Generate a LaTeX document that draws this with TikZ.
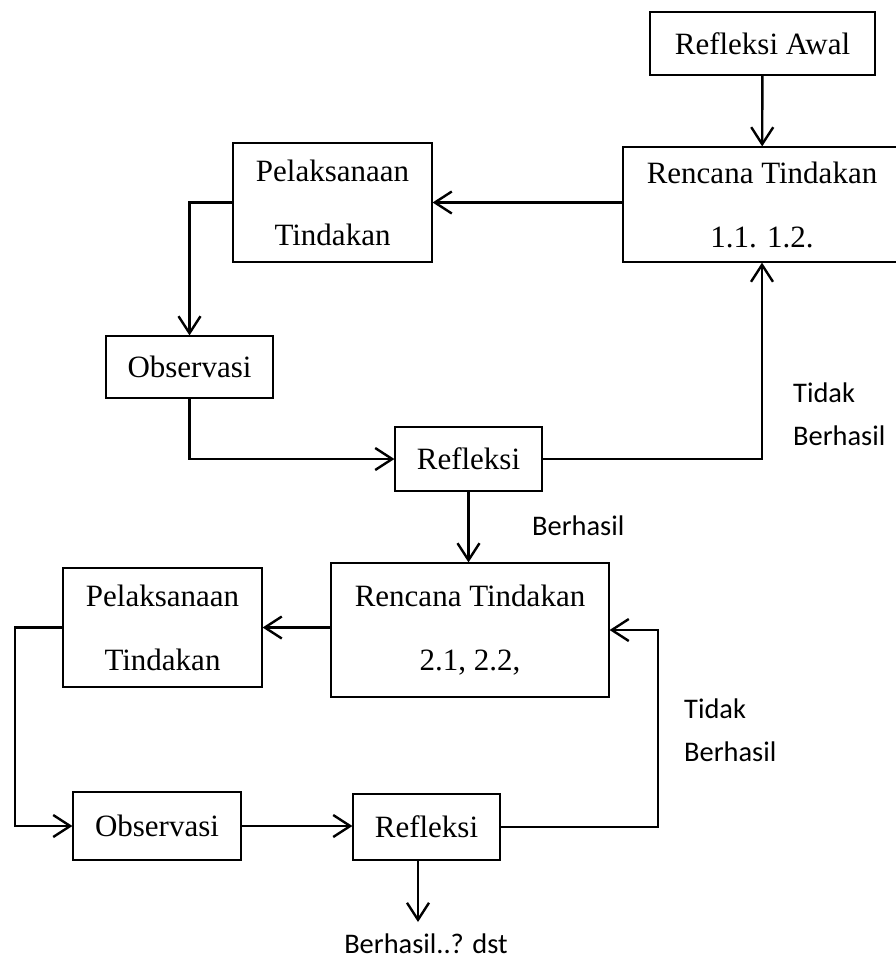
\documentclass[tikz,border=0pt]{standalone}
\usepackage{fontspec}
\setmainfont{Liberation Serif}
\newfontfamily\labelfont{Carlito}
\usetikzlibrary{arrows.meta}

\begin{document}
\begin{tikzpicture}[x=1pt, y=-1pt,
    kotak/.style={draw, line width=1.2pt, inner sep=0pt, align=center,
      font=\fontsize{31}{64}\selectfont},
    garis/.style={line width=2.4pt, -{Straight Barb[length=17pt, width=22pt]}},
    ket/.style={inner sep=0pt, align=left, font=\labelfont\fontsize{28.4}{43}\selectfont}]
    \useasboundingbox (0, 0) rectangle (896, 962);

    % 方框
    \node[kotak, minimum width=225pt, minimum height=63pt] (awal) at (762.5, 43.5) {Refleksi Awal};
    \node[kotak, minimum width=278pt, minimum height=115pt] (rencanaA) at (762, 204.5) {Rencana Tindakan\\1.1. 1.2.};
    \node[kotak, minimum width=199pt, minimum height=119pt] (pelaksanaanA) at (332.5, 202.5) {Pelaksanaan\\Tindakan};
    \node[kotak, minimum width=167pt, minimum height=62pt] (observasiA) at (189.5, 367) {Observasi};
    \node[kotak, minimum width=147pt, minimum height=64pt] (refleksiA) at (468.5, 459) {Refleksi};
    \node[kotak, minimum width=278pt, minimum height=134pt] (rencanaB) at (470, 630) {Rencana Tindakan\\2.1, 2.2,};
    \node[kotak, minimum width=199pt, minimum height=119pt] (pelaksanaanB) at (162.5, 627.5) {Pelaksanaan\\Tindakan};
    \node[kotak, minimum width=168pt, minimum height=68pt] (observasiB) at (157, 826) {Observasi};
    \node[kotak, minimum width=147pt, minimum height=66pt] (refleksiB) at (426.5, 827) {Refleksi};

    \coordinate (kiri) at (15, 826);
    \coordinate (kanan) at (658, 826);
    \coordinate (akhir) at (418, 922);

    % 连线
    \draw[garis] (awal) -- (rencanaA);
    \draw[garis] (rencanaA.west |- pelaksanaanA.east) -- (pelaksanaanA.east);
    \draw[garis] (pelaksanaanA.west) -| (observasiA.north);
    \draw[garis] (observasiA.south) |- (refleksiA.west);
    \draw[garis] (refleksiA.east) -| (rencanaA.south);
    \draw[garis] (refleksiA.south) -- (refleksiA.south |- rencanaB.north);
    \draw[garis] (rencanaB.west |- pelaksanaanB.east) -- (pelaksanaanB.east);
    \draw[garis] (pelaksanaanB.west) -| (kiri) -- (observasiB.west);
    \draw[garis] (observasiB.east) -- (refleksiB.west |- observasiB.east);
    \draw[garis] (refleksiB.east) -| (kanan |- rencanaB.east) -- (rencanaB.east);
    \draw[garis] (refleksiB.south -| akhir) -- (akhir);

    % 标注
    \node[ket, anchor=west] (tidakA) at (793, 414.5) {Tidak\\Berhasil};
    \node[ket, anchor=base west] (berhasilA) at (532, 535) {Berhasil};
    \node[ket, anchor=west] (tidakB) at (684, 730.5) {Tidak\\Berhasil};
    \node[ket, anchor=base] (lanjut) at (426, 953) {Berhasil..? dst};
\end{tikzpicture}
\end{document}
